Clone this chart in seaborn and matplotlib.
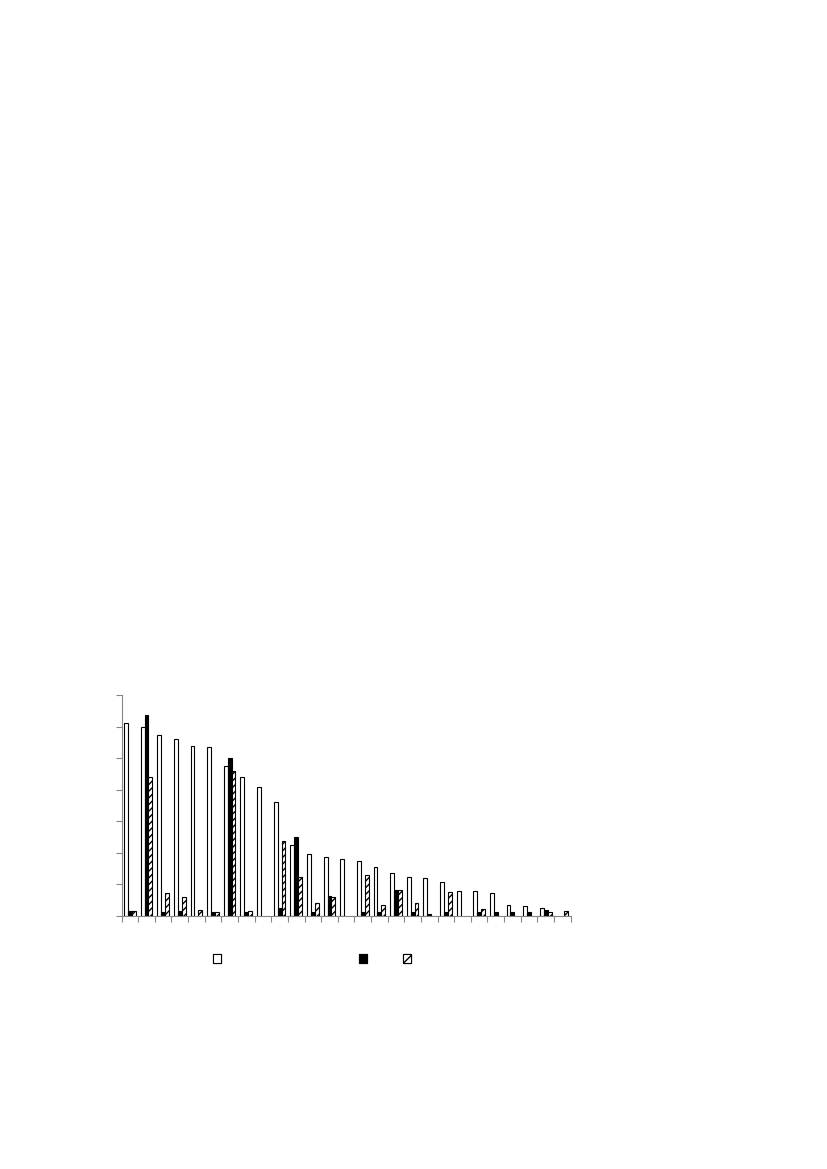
import numpy as np
import pandas as pd
import matplotlib
matplotlib.use("Agg")
import matplotlib.pyplot as plt
from matplotlib.patches import Patch
import seaborn as sns

# values (no text survives in it, so the series keys are neutral)
categories = [str(i) for i in range(1, 28)]
series_a = [6.12, 5.97, 5.74, 5.62, 5.37, 5.36, 4.76, 4.40, 4.08, 3.60, 2.24, 1.97, 1.86, 1.81,
            1.74, 1.54, 1.36, 1.24, 1.19, 1.08, 0.79, 0.79, 0.74, 0.36, 0.31, 0.26, np.nan]
series_b = [0.16, 6.37, 0.13, 0.15, np.nan, 0.14, 5.01, 0.14, np.nan, 0.24, 2.50, 0.13, 0.64, np.nan,
            0.14, 0.14, 0.83, 0.14, 0.06, 0.14, np.nan, 0.14, 0.13, 0.14, 0.14, 0.19, np.nan]
series_c = [0.16, 4.39, 0.74, 0.59, 0.18, 0.14, 4.59, 0.15, np.nan, 2.37, 1.25, 0.41, 0.61, np.nan,
            1.30, 0.35, 0.81, 0.42, np.nan, 0.76, np.nan, 0.22, np.nan, np.nan, np.nan, 0.13, 0.15]
series_names = ["A", "B", "C"]

df = pd.DataFrame({
    "cat": categories * 3,
    "series": np.repeat(series_names, len(categories)),
    "value": series_a + series_b + series_c,
})

sns.set_style("white")
plt.rcParams['hatch.linewidth'] = 1.0
grey = "#868686"

fig = plt.figure(figsize=(8.27, 11.69), dpi=100)
ax = fig.add_axes([0.147, 0.2164, 0.543, 0.1891])

sns.barplot(data=df, x="cat", y="value", hue="series", order=categories,
            hue_order=series_names, errorbar=None, width=0.7, legend=False,
            ax=ax, linewidth=0.8, edgecolor="black")

fills = ["white", "black", "white"]
for cont, fc in zip(ax.containers, fills):
    for bar in cont:
        bar.set_facecolor(fc)
        bar.set_edgecolor("black")
        bar.set_linewidth(0.8)
for bar in ax.containers[2]:
    bar.set_hatch("/////")

ax.set_xlim(-0.5, len(categories) - 0.5)
ax.set_ylim(0, 7)
ax.set_yticks(np.arange(0, 8, 1))
ax.set_yticklabels([])
ax.set_xticks(np.arange(-0.5, len(categories), 1))
ax.set_xticklabels([])
ax.set_xlabel("")
ax.set_ylabel("")
sns.despine(ax=ax)
for s in ["left", "bottom"]:
    ax.spines[s].set_color(grey)
    ax.spines[s].set_linewidth(0.8)
ax.tick_params(axis="both", direction="out", length=4, width=0.8, color=grey,
               left=True, bottom=True)

# legend keys only (labels are blank in the reference)
handles = [Patch(facecolor="white", edgecolor="black", linewidth=0.8),
           Patch(facecolor="black", edgecolor="black", linewidth=0.8),
           Patch(facecolor="white", edgecolor="black", linewidth=0.8, hatch="////")]
xs = [216.7, 362.7, 407.0]
for h, x in zip(handles, xs):
    leg = fig.legend(handles=[h], labels=[""], loc="center",
                     bbox_to_anchor=(x / 827, 1 - 959 / 1169),
                     frameon=False, handlelength=0.6, handleheight=0.6,
                     handletextpad=0, borderpad=0, borderaxespad=0)
    fig.add_artist(leg)

fig.savefig("out.png", dpi=100)
